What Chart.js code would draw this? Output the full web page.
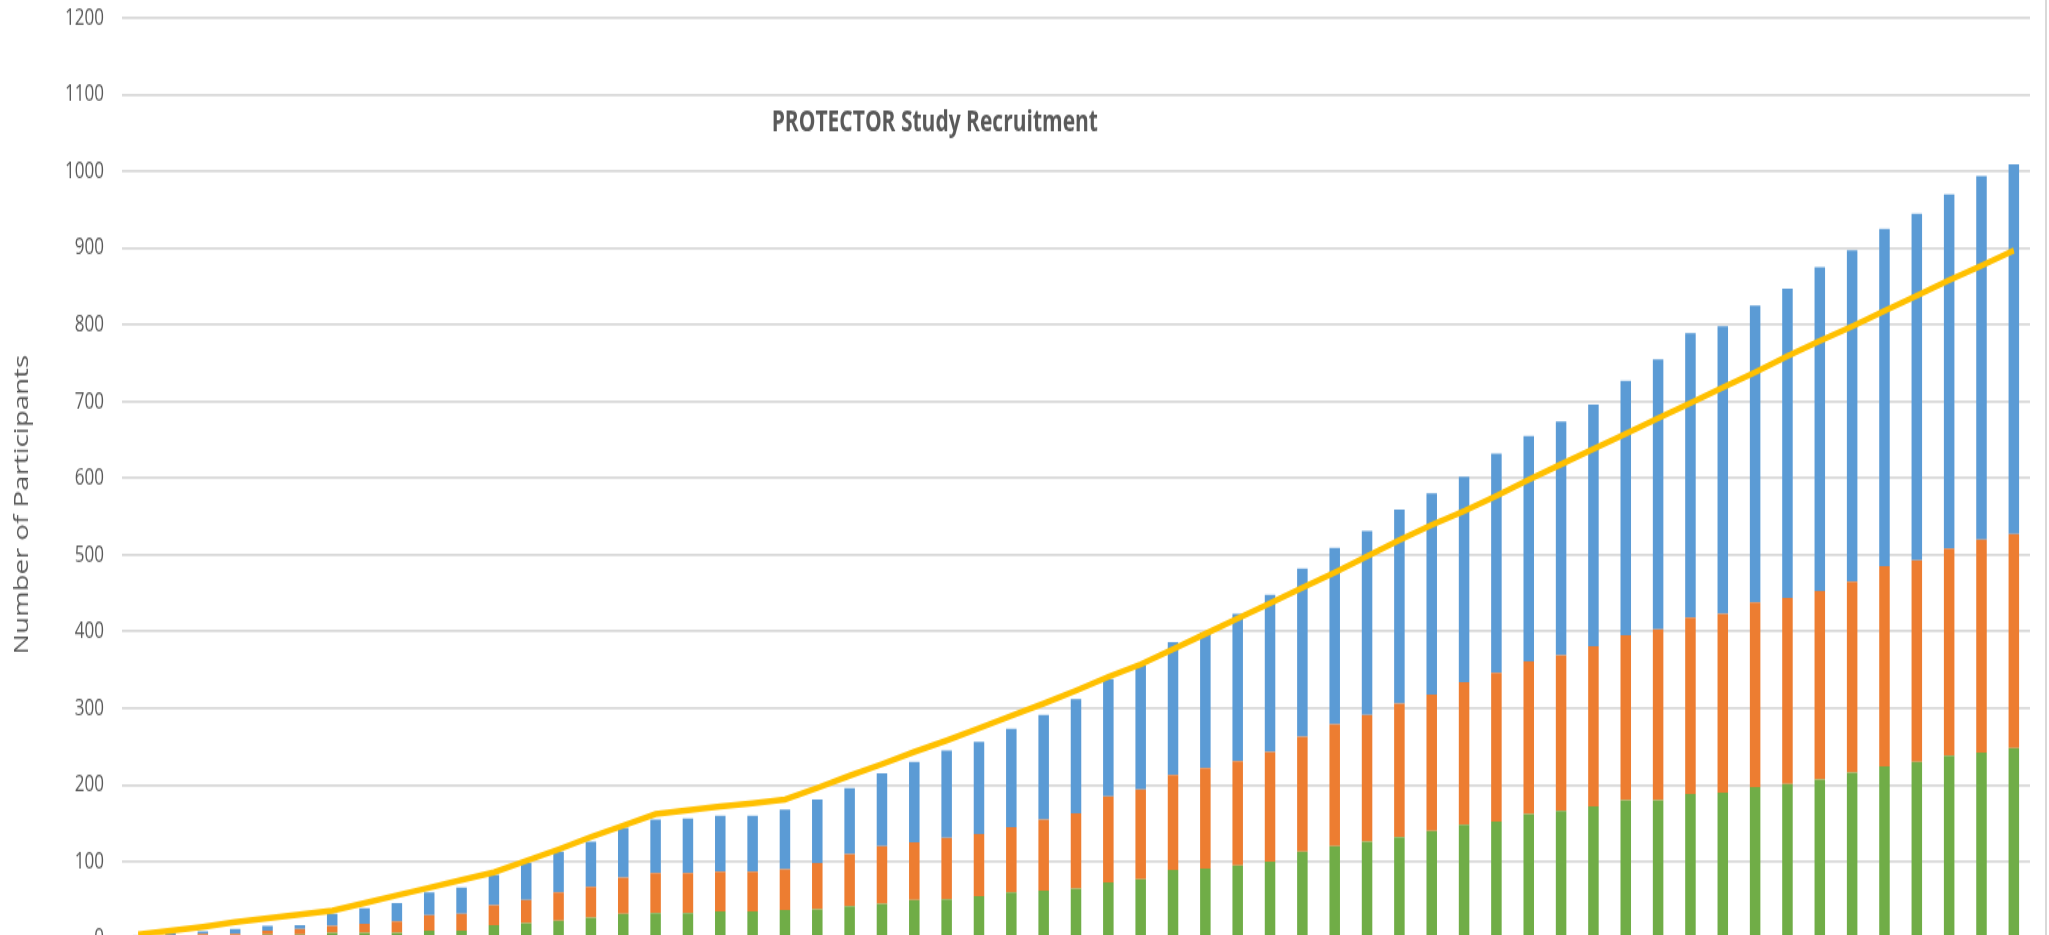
<!DOCTYPE html>
<html>
<head>
<meta charset="utf-8">
<script src="https://cdn.jsdelivr.net/npm/chart.js"></script>
<style>
  html, body { margin: 0; padding: 0; background: #fff; overflow: hidden; }
  #wrap { width: 2045px; height: 950px; border-right: 2px solid #d9d9d9; }
</style>
</head>
<body>
<div id="wrap">
  <!-- drawn at 688px high and stretched to 950px, like the original picture -->
  <canvas id="myChart" width="2045" height="688" style="width:2045px;height:950px;display:block"></canvas>
</div>
<script>
const chartTitle = 'PROTECTOR Study Recruitment'
const axisTitle = 'Number of Participants'

const labels = ['1','2','3','4','5','6','7','8','9','10',
  '11','12','13','14','15','16','17','18','19','20',
  '21','22','23','24','25','26','27','28','29','30',
  '31','32','33','34','35','36','37','38','39','40',
  '41','42','43','44','45','46','47','48','49','50',
  '51','52','53','54','55','56','57','58','59']

// bottom segment (green)
const green = [0,1,3,3,5,5,7,7,7,10,
  10,17,20,23,27,32,33,33,35,35,
  37,38,42,45,50,51,55,60,62,65,
  73,77,89,91,95,100,113,120,126,132,
  140,148,152,162,166,172,180,180,188,190,
  197,201,207,216,224,230,238,242,248]

// middle segment (orange)
const orange = [0,3,3,3,5,7,9,12,15,20,
  22,26,30,37,40,47,52,52,52,52,
  53,60,68,75,75,80,81,85,93,98,
  112,117,124,131,136,143,150,159,165,174,
  178,186,194,199,203,209,215,223,230,233,
  241,243,246,249,261,263,270,278,279]

// top segment (blue)
const blue = [3,3,3,6,6,5,16,20,24,30,
  34,40,48,53,59,65,70,71,73,73,
  78,83,86,95,105,114,120,128,136,149,
  153,162,173,177,192,205,219,230,240,253,
  262,268,286,294,305,315,332,352,371,375,
  387,403,422,432,440,452,462,474,482]

// target line (yellow)
const target = [5,10,15,21,26,31,36,46,56,66,
  76,86,101,116,132,147,162,167,172,176,
  181,196,212,227,243,258,274,290,306,323,
  341,357,377,397,417,437,457,477,498,519,
  539,557,577,598,618,638,658,678,698,718,
  738,759,779,798,818,838,858,877,897]

const yTicks = { min: 0, max: 1200, step: 100 }

const fontFam = "'Open Sans', sans-serif"

// chart title sits inside the plot, axis title is a bit below the middle
const textPlugin = {
  id: 'textPlugin',
  afterDraw(chart) {
    const ctx = chart.ctx
    const area = chart.chartArea
    ctx.save()
    ctx.fillStyle = '#595959'
    ctx.textAlign = 'center'
    ctx.textBaseline = 'middle'
    ctx.font = 'bold 21px ' + fontFam
    ctx.fillText(chartTitle, area.left + area.width * 0.426, chart.scales.y.getPixelForValue(1064))

    ctx.translate(22, area.top + area.height * 0.529)
    ctx.rotate(-Math.PI / 2)
    ctx.font = '20px ' + fontFam
    ctx.fillText(axisTitle, 0, 0)
    ctx.restore()
  }
}

const ctx = document.getElementById('myChart')
new Chart(ctx, {
  type: 'bar',
  data: {
    labels: labels,
    datasets: [
      { type: 'line', label: 'Target', data: target, stack: 'target', order: 0,
        borderColor: '#FFC000', borderWidth: 4.5, pointRadius: 0, tension: 0, fill: false },
      { label: 'Group 1', data: green, backgroundColor: '#70AD47', stack: 'sites', order: 1 },
      { label: 'Group 2', data: orange, backgroundColor: '#ED7D31', stack: 'sites', order: 1 },
      { label: 'Group 3', data: blue, backgroundColor: '#5B9BD5', stack: 'sites', order: 1 }
    ]
  },
  options: {
    responsive: false,
    devicePixelRatio: 1,
    animation: false,
    datasets: { bar: { barPercentage: 0.325, categoryPercentage: 1 } },
    layout: { padding: { top: 13, right: 15, bottom: 8, left: 0 } },
    plugins: { legend: { display: false }, tooltip: { enabled: false } },
    scales: {
      x: { stacked: true, display: false },
      y: {
        stacked: true,
        min: yTicks.min,
        max: yTicks.max,
        border: { display: false },
        grid: { color: '#d9d9d9', lineWidth: 1.8, drawTicks: true, tickLength: 18, tickColor: 'rgba(0,0,0,0)' },
        ticks: { stepSize: yTicks.step, padding: 0, color: '#595959',
                 font: { family: fontFam, size: 17, lineHeight: 1 },
                 callback: v => String(v) },
        afterFit(scale) { scale.width = 122 }
      }
    }
  },
  plugins: [textPlugin]
})
</script>
</body>
</html>
